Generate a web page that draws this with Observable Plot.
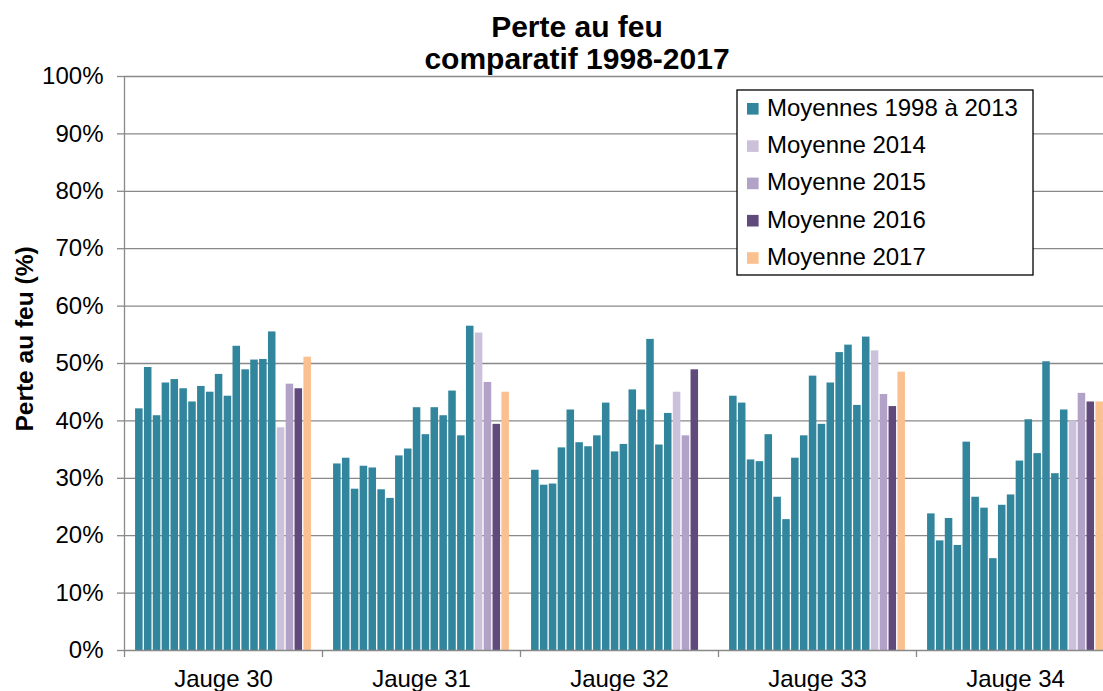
<!DOCTYPE html>
<html>
<head>
<meta charset="utf-8">
<script src="https://cdn.jsdelivr.net/npm/d3@7"></script>
<script src="https://cdn.jsdelivr.net/npm/@observablehq/plot@0.6"></script>
<style>
  html, body { margin: 0; padding: 0; background: #fff; overflow: hidden; }
  #chart { position: relative; width: 1103px; height: 691px; overflow: hidden; background: #fff; }
  #chart > svg { position: absolute; left: 0; top: 0; max-width: none !important; height: auto; }
  #overlay { pointer-events: none; }
</style>
</head>
<body>
<div id="chart"></div>
<script>
// ---- Data (values in %) ----
const groups = ["Jauge 30", "Jauge 31", "Jauge 32", "Jauge 33", "Jauge 34"];
const seriesNames = ["Moyennes 1998 à 2013", "Moyenne 2014", "Moyenne 2015", "Moyenne 2016", "Moyenne 2017"];
const seriesColors = ["#31859C", "#CCC1DA", "#B3A2C7", "#604A7B", "#FAC090"];
const histYears = ["1998","1999","2000","2001","2002","2003","2004","2005","2006","2007","2008","2009","2010","2011","2012","2013"];

// yearly averages 1998 → 2013, per gauge
const jauge30 = [42.1, 49.3, 40.9, 46.6, 47.2, 45.6, 43.3, 46.0, 45.0, 48.1, 44.3, 53.0, 48.9, 50.6, 50.7, 55.5];
const jauge31 = [32.5, 33.5, 28.1, 32.1, 31.8, 28.0, 26.5, 33.9, 35.1, 42.3, 37.6, 42.3, 40.9, 45.2, 37.4, 56.5];
const jauge32 = [31.4, 28.8, 29.0, 35.3, 41.9, 36.2, 35.5, 37.4, 43.1, 34.6, 35.9, 45.4, 41.9, 54.2, 35.8, 41.3];
const jauge33 = [44.3, 43.1, 33.2, 32.9, 37.6, 26.7, 22.8, 33.5, 37.4, 47.8, 39.4, 46.6, 51.9, 53.2, 42.7, 54.6];
const jauge34 = [23.8, 19.1, 23.0, 18.3, 36.3, 26.7, 24.8, 16.0, 25.3, 27.1, 33.0, 40.2, 34.3, 50.3, 30.8, 41.9];

// later years, per gauge (Jauge 30 … Jauge 34)
const moy2014 = [38.8, 55.3, 45.0, 52.2, 40.0];
const moy2015 = [46.4, 46.7, 37.4, 44.6, 44.8];
const moy2016 = [45.6, 39.4, 48.9, 42.5, 43.3];
const moy2017 = [51.1, 45.0, null, 48.5, 43.3];

const yTicks = [0, 10, 20, 30, 40, 50, 60, 70, 80, 90, 100];

// ---- Build table ----
const histByGroup = [jauge30, jauge31, jauge32, jauge33, jauge34];
const laterYears = [["2014", moy2014, 1], ["2015", moy2015, 2], ["2016", moy2016, 3], ["2017", moy2017, 4]];
const slots = [...histYears, "2014", "2015", "2016", "2017"];
const rows = [];
groups.forEach((g, gi) => {
  histByGroup[gi].forEach((v, i) => rows.push({group: g, slot: histYears[i], series: seriesNames[0], value: v}));
  laterYears.forEach(([yr, arr, si]) => {
    if (arr[gi] != null) rows.push({group: g, slot: yr, series: seriesNames[si], value: arr[gi]});
  });
});

// ---- Layout ----
const W = 1114, H = 691, mL = 124, mR = 0, mT = 76, mB = 41;
const padIn = 0.15, padOut = 1.25;
const facetW = (W - mL - mR) / groups.length;
const step = facetW / (slots.length - padIn + 2 * padOut);
const firstBandStart = (facetW - step * (slots.length - padIn)) / 2;
const sepDx = -(firstBandStart + step * (1 - padIn) / 2);
const gridColor = "#898989";
const font = "'Liberation Sans', Arial, Helvetica, sans-serif";

const chart = Plot.plot({
  width: W, height: H,
  marginLeft: mL, marginRight: mR, marginTop: mT, marginBottom: mB,
  style: {fontFamily: font, fontSize: "24px", color: "#000", background: "transparent", overflow: "visible", maxWidth: "none"},
  fx: {domain: groups, padding: 0, round: false, label: null},
  x: {domain: slots, paddingInner: padIn, paddingOuter: padOut, round: false, axis: null},
  y: {domain: [0, 100], label: null},
  color: {domain: seriesNames, range: seriesColors},
  marks: [
    Plot.ruleY(yTicks.filter(d => d > 0), {stroke: gridColor, strokeWidth: 1.3}),
    Plot.barY(rows, {fx: "group", x: "slot", y: "value", fill: "series"}),
    Plot.ruleY([0], {stroke: gridColor, strokeWidth: 1.3}),
    Plot.axisY({ticks: yTicks, tickSize: 7, tickPadding: 14, tickFormat: d => d + "%",
      fontSize: 24, stroke: gridColor, strokeWidth: 1.3, label: null}),
    Plot.axisFx({anchor: "bottom", tickSize: 0, tickPadding: 19, fontSize: 24, label: null}),
    Plot.ruleX(groups, {fx: d => d, x: () => slots[0], y1: 0, y2: 0, insetBottom: -7,
      dx: sepDx, stroke: gridColor, strokeWidth: 1.3}),
    Plot.ruleX([groups[0]], {fx: d => d, x: () => slots[0], y1: 0, y2: 100,
      dx: sepDx, stroke: gridColor, strokeWidth: 1.3})
  ]
});
chart.style.maxWidth = "none";
chart.style.width = W + "px";
chart.style.height = H + "px";
document.getElementById("chart").appendChild(chart);

// ---- Titles and legend overlay ----
const ov = d3.select("#chart").append("svg")
  .attr("id", "overlay")
  .attr("width", 1103).attr("height", 691)
  .style("font-family", font);

ov.append("text").attr("x", 577).attr("y", 37).attr("text-anchor", "middle")
  .attr("font-weight", "bold").attr("font-size", 30).text("Perte au feu");
ov.append("text").attr("x", 577).attr("y", 69).attr("text-anchor", "middle")
  .attr("font-weight", "bold").attr("font-size", 30).text("comparatif 1998-2017");

ov.append("text").attr("transform", "translate(33,339) rotate(-90)").attr("text-anchor", "middle")
  .attr("font-weight", "bold").attr("font-size", 24.5).text("Perte au feu (%)");

const lg = ov.append("g");
lg.append("rect").attr("x", 737).attr("y", 90).attr("width", 296).attr("height", 185)
  .attr("fill", "#fff").attr("stroke", "#000").attr("stroke-width", 1.3);
seriesNames.forEach((name, i) => {
  const cy = 108.8 + i * 37.3;
  lg.append("rect").attr("x", 747).attr("y", cy - 5.8).attr("width", 11.6).attr("height", 11.6)
    .attr("fill", seriesColors[i]);
  lg.append("text").attr("x", 767).attr("y", cy + 7).attr("font-size", 24).text(name);
});
</script>
</body>
</html>
